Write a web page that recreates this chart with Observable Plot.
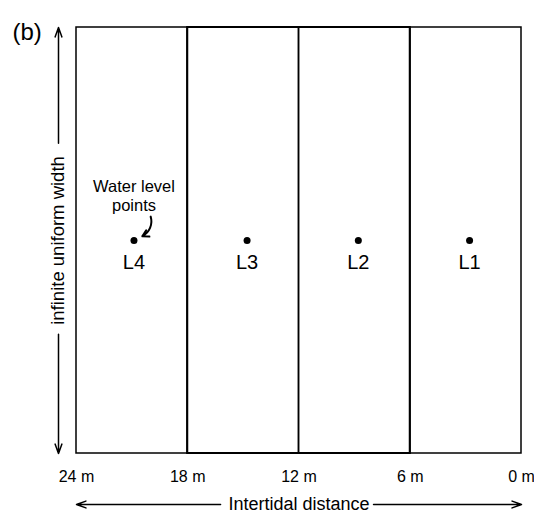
<!DOCTYPE html>
<html>
<head>
<meta charset="utf-8">
<script src="https://cdn.jsdelivr.net/npm/d3@7"></script>
<script src="https://cdn.jsdelivr.net/npm/@observablehq/plot@0.6"></script>
<style>
  body { margin: 0; background: #fff; }
  svg { font-family: "Liberation Sans", Arial, sans-serif; }
</style>
</head>
<body>
<div id="chart"></div>
<script>
// Zone boundaries along the intertidal distance (m)
const boundaries = [24, 18, 12, 6, 0];
const tickLabels = ["24 m", "18 m", "12 m", "6 m", "0 m"];
// Water level points
const pointNames = ["L4", "L3", "L2", "L1"];
const pointX = [20.9, 14.8, 8.8, 2.8];
const pointY = [0.5, 0.5, 0.5, 0.5];
// Annotation
const noteText = "Water level\npoints";
const noteArrow = {x1: 20.0, y1: 0.556, x2: 20.45, y2: 0.51};
// Axis arrows (segments around the labels)
const hArrows = [{x1: 16.23, x2: 24}, {x1: 7.98, x2: 0}];
const vArrows = [{y1: 0.728, y2: 1}, {y1: 0.28, y2: 0}];

const zones = d3.range(boundaries.length - 1).map(i => ({x1: boundaries[i], x2: boundaries[i + 1]}));
const points = pointNames.map((n, i) => ({name: n, x: pointX[i], y: pointY[i]}));

const chart = Plot.plot({
  width: 534,
  height: 513,
  marginLeft: 76,
  marginRight: 13,
  marginTop: 27,
  marginBottom: 60,
  x: {domain: [24, 0]},
  y: {domain: [0, 1]},
  style: {fontFamily: "Liberation Sans, Arial, sans-serif", color: "#000"},
  marks: [
    Plot.rect(zones, {x1: "x1", x2: "x2", y1: 0, y2: 1, fill: "none", stroke: "#000", strokeWidth: 1.5}),
    Plot.rect([{x1: boundaries[1], x2: boundaries[3]}], {x1: "x1", x2: "x2", y1: 0, y2: 1, fill: "none", stroke: "#000", strokeWidth: 2}),
    Plot.axisX(boundaries, {tickSize: 0, tickPadding: 17, fontSize: 16, tickFormat: (d, i) => tickLabels[i], label: null}),
    Plot.axisY([], {label: null}),
    Plot.dot(points, {x: "x", y: "y", r: 3.5, fill: "#000"}),
    Plot.text(points, {x: "x", y: "y", text: "name", dy: 22, fontSize: 20, fill: "#000"}),
    Plot.text([noteText], {x: pointX[0], y: pointY[0], text: d => d, dy: -45, fontSize: 16.5, lineHeight: 1.15, fill: "#000"}),
    Plot.arrow([noteArrow], {x1: "x1", y1: "y1", x2: "x2", y2: "y2", bend: 40, stroke: "#000", strokeWidth: 2, headLength: 9}),
    // horizontal axis arrow
    Plot.arrow(hArrows, {x1: "x1", x2: "x2", y1: 0, y2: 0, dy: 51, stroke: "#000", strokeWidth: 1.5, headLength: 10, headAngle: 40}),
    Plot.text(["Intertidal distance"], {x: 12, y: 0, text: d => d, dy: 51, fontSize: 18, fill: "#000"}),
    // vertical axis arrow
    Plot.arrow(vArrows, {x1: 24, x2: 24, y1: "y1", y2: "y2", dx: -18, stroke: "#000", strokeWidth: 1.5, headLength: 10, headAngle: 40}),
    Plot.text(["infinite uniform width"], {x: 24, y: 0.5, text: d => d, dx: -18, rotate: -90, fontSize: 18.5, fill: "#000"}),
    // panel tag
    Plot.text(["(b)"], {frameAnchor: "top-left", text: d => d, dx: -64, dy: -5, textAnchor: "start", fontSize: 24, fill: "#000"})
  ]
});
document.getElementById("chart").appendChild(chart);
</script>
</body>
</html>
